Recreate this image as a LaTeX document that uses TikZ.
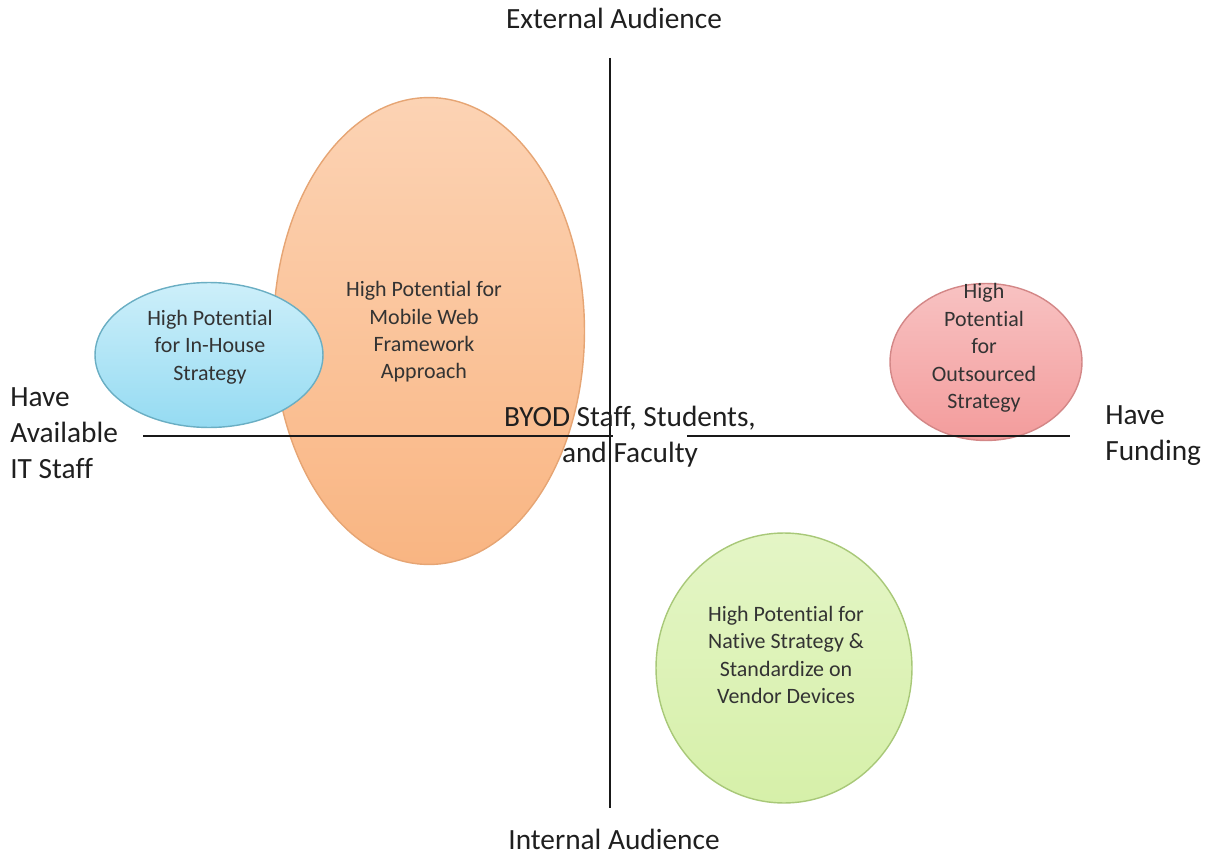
\documentclass[tikz,border=0pt]{standalone}
\usepackage{fontspec}
\setmainfont{Carlito}[Ligatures=NoCommon]
\usetikzlibrary{shapes.geometric}

\definecolor{blueTop}{HTML}{CDEFFA}
\definecolor{blueBot}{HTML}{95DBF2}
\definecolor{blueLine}{HTML}{6AAEC3}
\definecolor{orangeTop}{HTML}{FCD3B4}
\definecolor{orangeBot}{HTML}{F9B582}
\definecolor{orangeLine}{HTML}{E6A574}
\definecolor{redTop}{HTML}{F8C2C2}
\definecolor{redBot}{HTML}{F39C9C}
\definecolor{redLine}{HTML}{D38787}
\definecolor{greenTop}{HTML}{E4F5C6}
\definecolor{greenBot}{HTML}{D6F0A9}
\definecolor{greenLine}{HTML}{A8C878}

\tikzstyle{bubble}=[ellipse,draw,line width=0.8pt,inner sep=0pt,shading=axis,shading angle=0]
\tikzstyle{bubble text}=[font=\fontsize{12.5}{15.6}\selectfont,text=black!80,align=center,inner sep=0pt]
\tikzstyle{axis label}=[font=\fontsize{16.7}{20.4}\selectfont,text=black!88,align=left,inner sep=0pt]
\tikzstyle{axis} = [draw,line width=1pt,black!90]

\begin{document}
\begin{tikzpicture}[x=0.02cm,y=-0.02cm]
		\useasboundingbox (0,0) rectangle (1211,855);
		% the four strategy bubbles
		\node[bubble,draw=orangeLine,top color=orangeTop,bottom color=orangeBot,minimum width=6.22cm,minimum height=9.34cm] (web) at (429,331) {};
		\node[bubble,draw=blueLine,top color=blueTop,bottom color=blueBot,minimum width=4.56cm,minimum height=2.9cm] (inhouse) at (209,355) {};
		\node[bubble,draw=redLine,top color=redTop,bottom color=redBot,minimum width=3.84cm,minimum height=3.14cm] (outsrc) at (986,362) {};
		\node[bubble,draw=greenLine,top color=greenTop,bottom color=greenBot,minimum width=5.12cm,minimum height=5.4cm] (native) at (784,668) {};
		\node[bubble text] (web txt) at (424,332) {High Potential for\\Mobile Web\\Framework\\Approach};
		\node[bubble text] (inhouse txt) at (210,347) {High Potential\\for In-House\\Strategy};
		\node[bubble text] (outsrc txt) at (984,348) {High\\Potential\\for\\Outsourced\\Strategy};
		\node[bubble text] (native txt) at (786,655) {High Potential for\\Native Strategy \&\\Standardize on\\Vendor Devices};
		% ends of the axes
		\coordinate (west) at (143,436);
		\coordinate (gap w) at (613,436);
		\coordinate (gap e) at (687,436);
		\coordinate (east) at (1070,436);
		\coordinate (north) at (610,58);
		\coordinate (south) at (610,808);
		\foreach \source/ \dest in {west/gap w, gap e/east, north/south}
		\path[axis] (\source) -- (\dest);
		% axis labels
		\node[axis label] (ext) at (614,18) {External Audience};
		\node[axis label] (int) at (614,839) {Internal Audience};
		\node[axis label,anchor=west] (staff) at (10,433) {Have\\Available\\IT Staff};
		\node[axis label,anchor=west] (fund) at (1105,436) {Have\\Funding};
		\node[axis label,align=center] (byod) at (630,437) {BYOD Staff, Students,\\and Faculty};
\end{tikzpicture}
\end{document}
